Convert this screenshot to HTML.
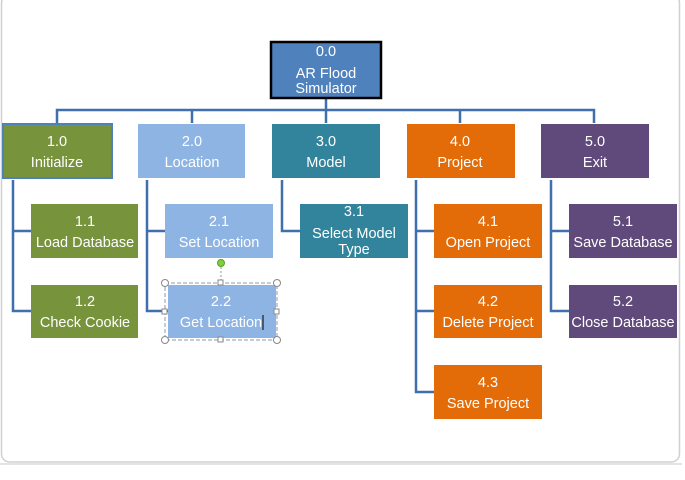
<!DOCTYPE html>
<html><head><meta charset="utf-8"><style>
html,body{margin:0;padding:0;background:#fff;}
svg{display:block;}
text{font-family:"Liberation Sans",sans-serif;font-size:14.5px;fill:#fff;text-anchor:middle;}
</style></head><body>
<svg width="685" height="480" viewBox="0 0 685 480">
<rect x="1.5" y="-5" width="678" height="467" rx="8" fill="#fff" stroke="#d0d0d0" stroke-width="1.5"/>
<line x1="0" y1="464" x2="682" y2="464" stroke="#e4e4e4" stroke-width="2"/>
<g stroke="#3f6fad" stroke-width="2.5" fill="none">
<line x1="326" y1="99" x2="326" y2="110"/>
<polyline points="57,123 57,110 594,110 594,123"/>
<line x1="192" y1="110" x2="192" y2="123"/>
<line x1="326" y1="110" x2="326" y2="123"/>
<line x1="460" y1="110" x2="460" y2="123"/>
<polyline points="13,180 13,311 31,311"/><line x1="13" y1="231" x2="31" y2="231"/>
<polyline points="147,180 147,311 168,311"/><line x1="147" y1="231" x2="165" y2="231"/>
<polyline points="282,180 282,231 300,231"/>
<polyline points="416,180 416,392 434,392"/><line x1="416" y1="231" x2="434" y2="231"/><line x1="416" y1="311" x2="434" y2="311"/>
<polyline points="551,180 551,311 569,311"/><line x1="551" y1="231" x2="569" y2="231"/>
</g>
<rect x="271" y="42" width="110" height="56" fill="#4f81bd" stroke="#000" stroke-width="2.5"/>
<text x="326" y="56">0.0</text><text x="326" y="78">AR Flood</text><text x="326" y="93">Simulator</text>
<rect x="3" y="124" width="109" height="54" fill="#77933c" stroke="#4f81bd" stroke-width="2"/>
<text x="57" y="146">1.0</text><text x="57" y="167">Initialize</text>
<rect x="138" y="124" width="107" height="54" fill="#8eb4e3"/>
<text x="192" y="146">2.0</text><text x="192" y="167">Location</text>
<rect x="272" y="124" width="108" height="54" fill="#31849b"/>
<text x="326" y="146">3.0</text><text x="326" y="167">Model</text>
<rect x="407" y="124" width="108" height="54" fill="#e36c09"/>
<text x="460" y="146">4.0</text><text x="460" y="167">Project</text>
<rect x="541" y="124" width="108" height="54" fill="#604a7b"/>
<text x="595" y="146">5.0</text><text x="595" y="167">Exit</text>

<rect x="31" y="204" width="107" height="54" fill="#77933c"/>
<text x="85" y="226">1.1</text><text x="85" y="247">Load Database</text>
<rect x="31" y="285" width="107" height="53" fill="#77933c"/>
<text x="85" y="306">1.2</text><text x="85" y="327">Check Cookie</text>
<rect x="165" y="204" width="108" height="54" fill="#8eb4e3"/>
<text x="219" y="226">2.1</text><text x="219" y="247">Set Location</text>
<rect x="168" y="285" width="108" height="53" fill="#8eb4e3"/>
<text x="221" y="306">2.2</text><text x="221" y="327">Get Location</text>
<line x1="263" y1="315" x2="263" y2="330" stroke="#000" stroke-width="1"/>
<rect x="165" y="283" width="112" height="57" fill="none" stroke="#8a9aad" stroke-dasharray="4,2"/>
<line x1="221" y1="263" x2="221" y2="283" stroke="#8a9aad" stroke-dasharray="2,2"/>
<circle cx="221" cy="263" r="3.5" fill="#7fd13b" stroke="#5a9a2a"/>
<g fill="#fff" stroke="#888">
<circle cx="165" cy="283" r="3.5"/><circle cx="277" cy="283" r="3.5"/><circle cx="165" cy="340" r="3.5"/><circle cx="277" cy="340" r="3.5"/>
<rect x="218" y="280" width="5" height="5"/><rect x="218" y="337" width="5" height="5"/><rect x="162" y="309" width="5" height="5"/><rect x="274" y="309" width="5" height="5"/>
</g>
<rect x="300" y="204" width="108" height="54" fill="#31849b"/>
<text x="354" y="216">3.1</text><text x="354" y="238">Select Model</text><text x="354" y="254">Type</text>
<rect x="434" y="204" width="108" height="54" fill="#e36c09"/>
<text x="488" y="226">4.1</text><text x="488" y="247">Open Project</text>
<rect x="434" y="285" width="108" height="53" fill="#e36c09"/>
<text x="488" y="306">4.2</text><text x="488" y="327">Delete Project</text>
<rect x="434" y="365" width="108" height="54" fill="#e36c09"/>
<text x="488" y="387">4.3</text><text x="488" y="408">Save Project</text>
<rect x="569" y="204" width="108" height="54" fill="#604a7b"/>
<text x="623" y="226">5.1</text><text x="623" y="247">Save Database</text>
<rect x="569" y="285" width="108" height="53" fill="#604a7b"/>
<text x="623" y="306">5.2</text><text x="623" y="327">Close Database</text>
</svg>
</body></html>
